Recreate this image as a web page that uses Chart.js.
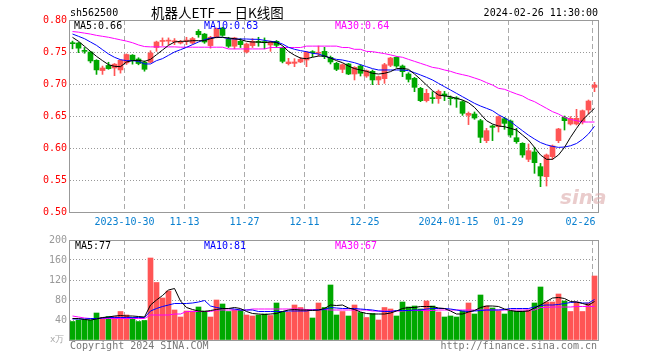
<!DOCTYPE html>
<html>
<head>
<meta charset="utf-8">
<script src="https://cdn.jsdelivr.net/npm/chart.js@4/dist/chart.umd.min.js"></script>
<style>
html,body{margin:0;padding:0;background:#fff;}
#wrap{position:relative;width:660px;height:360px;overflow:hidden;font-family:"DejaVu Sans Mono",monospace;font-size:10px;line-height:12px;}
#wrap canvas{position:absolute;left:0;}
.t{position:absolute;white-space:pre;}
</style>
</head>
<body>
<div id="wrap">
<canvas id="k" width="660" height="235" style="top:0"></canvas>
<canvas id="v" width="660" height="120" style="top:230px"></canvas>
<div class="t" style="left:70px;top:7px;color:#000">sh562500</div>
<div class="t" style="left:151px;top:3px;font-family:'Noto Sans CJK SC',sans-serif;font-size:13.5px;line-height:18px;color:#000">机器人ETF 一 日K线图</div>
<div class="t" style="right:62px;top:7px;color:#000">2024-02-26 11:30:00</div>
<div class="t" id="m5" style="left:74px;top:20px;color:#000"></div>
<div class="t" id="m10" style="left:204px;top:20px;color:#0000ff"></div>
<div class="t" id="m30" style="left:335px;top:20px;color:#ff00ff"></div>
<div class="t" id="v5" style="left:75px;top:240px;color:#000"></div>
<div class="t" id="v10" style="left:204px;top:240px;color:#0000ff"></div>
<div class="t" id="v30" style="left:335px;top:240px;color:#ff00ff"></div>
<div class="t" style="left:50px;top:333px;color:#aaa;font-size:9px">x万</div>
<div class="t" style="left:70px;top:340px;color:#777">Copyright 2024 SINA.COM</div>
<div class="t" style="right:63px;top:340px;color:#777">http://finance.sina.com.cn</div>
<div class="t" style="left:560px;top:186px;font-family:'DejaVu Sans',sans-serif;font-style:italic;font-weight:bold;font-size:20px;line-height:22px;color:rgba(220,170,170,0.6)">sina</div>
</div>
<script>
// ---- data ----
const tickIdx = [9, 19, 29, 39, 49, 63, 73, 87];
const tickLabels = ['2023-10-30', '11-13', '11-27', '12-11', '12-25', '2024-01-15', '01-29', '02-26    '];
const priceTicks = [0.50, 0.55, 0.60, 0.65, 0.70, 0.75, 0.80];
const volTicks = [0, 40, 80, 120, 160, 200];

const opens = [0.764,0.764,0.752,0.750,0.737,0.721,0.729,0.725,0.722,0.733,0.745,0.739,0.734,0.734,0.757,0.7665,0.767,0.766,0.764,0.767,0.764,0.7823,0.778,0.760,0.773,0.7875,0.770,0.759,0.7667,0.750,0.760,0.766,0.7655,0.761,0.7667,0.757,0.7318,0.7323,0.7344,0.7375,0.7495,0.748,0.751,0.7417,0.7323,0.7229,0.7313,0.7156,0.7281,0.7125,0.7198,0.7063,0.7083,0.7292,0.7417,0.7281,0.7156,0.7089,0.6932,0.674,0.6778,0.6771,0.6844,0.6778,0.6778,0.6724,0.651,0.6531,0.6427,0.6115,0.6344,0.6333,0.6458,0.6422,0.6161,0.6073,0.5823,0.5938,0.5708,0.5552,0.5865,0.6115,0.6479,0.6375,0.6375,0.6411,0.6594,0.6948];
const highs = [0.767,0.765,0.757,0.751,0.738,0.728,0.734,0.732,0.738,0.747,0.746,0.741,0.736,0.752,0.767,0.772,0.772,0.771,0.768,0.773,0.773,0.785,0.779,0.7745,0.7875,0.7885,0.773,0.773,0.771,0.764,0.771,0.773,0.772,0.767,0.768,0.758,0.7401,0.7396,0.7417,0.751,0.7521,0.7594,0.7573,0.7437,0.7339,0.7313,0.7323,0.7271,0.7302,0.7219,0.7219,0.7125,0.7323,0.7417,0.7427,0.7297,0.7177,0.7104,0.6948,0.6917,0.688,0.6906,0.6885,0.6813,0.6802,0.674,0.6563,0.6563,0.6448,0.6307,0.6359,0.650,0.6479,0.6438,0.6307,0.6083,0.6063,0.601,0.576,0.5906,0.6047,0.6307,0.650,0.649,0.6604,0.6594,0.675,0.7026];
const lows = [0.755,0.749,0.748,0.733,0.715,0.715,0.723,0.713,0.717,0.7305,0.731,0.730,0.720,0.733,0.751,0.760,0.7615,0.7615,0.7625,0.7615,0.7625,0.773,0.7635,0.756,0.772,0.7745,0.757,0.755,0.757,0.7484,0.757,0.759,0.755,0.751,0.757,0.733,0.7297,0.7271,0.7333,0.7271,0.7427,0.7438,0.7396,0.7313,0.7208,0.7177,0.7146,0.7063,0.7125,0.7104,0.699,0.699,0.701,0.7271,0.726,0.7115,0.7031,0.688,0.6724,0.6719,0.6698,0.6698,0.674,0.6672,0.6635,0.651,0.6365,0.6448,0.6083,0.6083,0.6115,0.625,0.6292,0.6167,0.6073,0.5854,0.5786,0.5604,0.5396,0.5406,0.5823,0.6083,0.6281,0.6359,0.6359,0.6375,0.6531,0.688];
const closes = [0.763,0.756,0.751,0.736,0.722,0.725,0.724,0.731,0.737,0.746,0.7365,0.732,0.723,0.7485,0.7656,0.768,0.768,0.767,0.765,0.768,0.771,0.777,0.7656,0.773,0.7865,0.776,0.759,0.772,0.7615,0.7625,0.7667,0.765,0.7648,0.7655,0.7604,0.7354,0.7344,0.7344,0.7385,0.750,0.749,0.749,0.7427,0.7344,0.7229,0.7302,0.7156,0.726,0.7167,0.7208,0.7063,0.7115,0.7302,0.7406,0.7281,0.7193,0.7073,0.6948,0.674,0.6854,0.6771,0.6885,0.6818,0.6771,0.6766,0.6542,0.6542,0.6469,0.6167,0.6271,0.6323,0.649,0.6385,0.6203,0.6099,0.5891,0.5958,0.5771,0.5563,0.5891,0.6031,0.6297,0.6427,0.6464,0.6464,0.6583,0.6734,0.6984];

const ma5 = [0.7729,0.7667,0.7589,0.7510,0.7432,0.7365,0.7302,0.7276,0.7271,0.7344,0.7365,0.7370,0.7354,0.7385,0.7458,0.7531,0.7604,0.7656,0.7667,0.7667,0.7677,0.7677,0.7677,0.7708,0.7729,0.7729,0.7719,0.7708,0.7693,0.7667,0.7656,0.7656,0.7646,0.7656,0.7650,0.7600,0.7510,0.7450,0.7405,0.7396,0.7417,0.7437,0.7437,0.7406,0.7365,0.7333,0.7281,0.7240,0.7219,0.7198,0.7167,0.7156,0.7167,0.7193,0.7240,0.7245,0.7229,0.7156,0.7073,0.6984,0.6896,0.6828,0.6813,0.6802,0.6776,0.6750,0.6708,0.6635,0.6531,0.6427,0.6375,0.6344,0.6333,0.6307,0.6281,0.6203,0.6125,0.6010,0.5891,0.5823,0.5823,0.5891,0.6010,0.6167,0.6307,0.6438,0.6531,0.6620];
const ma10 = [0.7781,0.7745,0.7708,0.7656,0.7604,0.7536,0.7469,0.7417,0.7380,0.7365,0.7365,0.7354,0.7313,0.7313,0.7365,0.7396,0.7448,0.7500,0.7536,0.7573,0.7615,0.7656,0.7693,0.7719,0.7729,0.7729,0.7708,0.7703,0.7703,0.7703,0.7698,0.7698,0.7682,0.7667,0.7656,0.7625,0.7573,0.7542,0.7521,0.7505,0.7479,0.7469,0.7437,0.7406,0.7385,0.7375,0.7354,0.7333,0.7302,0.7271,0.7240,0.7219,0.7219,0.7219,0.7219,0.7219,0.7208,0.7177,0.7141,0.7104,0.7063,0.7010,0.6958,0.6906,0.6854,0.6802,0.6750,0.6698,0.6656,0.6620,0.6583,0.6520,0.6470,0.6414,0.6340,0.6270,0.6200,0.6140,0.6085,0.6050,0.6025,0.6010,0.6015,0.6035,0.6070,0.6135,0.6220,0.6340];
const ma30 = [0.7820,0.7810,0.7795,0.7780,0.7760,0.7745,0.7730,0.7710,0.7690,0.7670,0.7645,0.7610,0.7585,0.7580,0.7580,0.7580,0.7580,0.7580,0.7575,0.7575,0.7575,0.7575,0.7575,0.7575,0.7575,0.7575,0.7548,0.7548,0.7548,0.7548,0.7548,0.7548,0.7548,0.7570,0.7570,0.7570,0.7570,0.7570,0.7570,0.7592,0.7592,0.7592,0.7592,0.7592,0.7592,0.7570,0.7570,0.7542,0.7542,0.7510,0.7505,0.7490,0.7475,0.7455,0.7432,0.7417,0.7385,0.7354,0.7323,0.7292,0.7260,0.7245,0.7219,0.7198,0.7167,0.7146,0.7125,0.7094,0.7063,0.7021,0.6984,0.6932,0.6917,0.6880,0.6844,0.6813,0.6760,0.6724,0.6672,0.6620,0.6568,0.6531,0.6479,0.6448,0.6427,0.6406,0.6406,0.6406];

const vols = [37,40,41,40,54,45,47,47,57,50,45,37,39,164,115,84,98,60,46,58,58,66,58,46,80,72,57,60,60,50,48,50,52,49,74,56,56,70,65,60,44,74,65,110,50,57,48,70,55,45,53,40,65,62,48,76,66,68,62,78,68,56,46,48,46,58,74,52,90,68,64,58,52,58,58,58,60,74,106,76,76,92,78,57,76,57,74,128];
const vma5 = [43,43,41,40,42,45,46,48,49,48,48,47,46,70,80,89,100,103,78,65,61,58,57,59,61,63,63,65,63,57,53,52,51,52,53,57,60,61,60,60,59,60,63,70,69,70,64,61,56,53,52,52,52,54,58,63,65,65,67,67,67,64,63,58,52,52,56,59,65,68,68,67,62,59,57,57,58,64,70,77,84,85,83,77,76,73,70,77];
const vma10 = [42,42,42,43,43,44,45,45,45,45,45,45,45,58,63,67,70,73,73,73,74,76,79,68,65,63,63,62,60,60,60,57,57,57,57,57,58,58,58,58,60,60,61,65,64,63,63,63,62,61,60,58,57,57,59,59,59,60,60,62,63,63,63,62,60,58,57,58,59,60,60,60,61,63,63,63,63,66,69,70,70,71,73,75,76,74,74,81];
const vma30 = [48,46,44,43,43,43,43,43,43,43,43,43,43,50,50,50,50,52,52,57,57,57,57,57,60,60,60,60,60,60,62,62,62,62,62,62,62,62,62,61,61,61,61,60,60,60,60,60,60,60,58,58,58,58,58,58,59,59,59,59,59,60,60,60,60,60,60,60,60,60,60,60,60,60,60,60,60,60,65,65,66,66,66,66,67,67,67,67];

// ---- styles ----
const RED = '#ff5555';
const GREEN = '#00a800';
const MONO = 'DejaVu Sans Mono';
const upDown = closes.map((c, i) => c >= opens[i] ? RED : GREEN);

const last = a => a[a.length - 1];
document.getElementById('m5').textContent = 'MA5:' + last(ma5).toFixed(2);
document.getElementById('m10').textContent = 'MA10:' + last(ma10).toFixed(2);
document.getElementById('m30').textContent = 'MA30:' + last(ma30).toFixed(2);
document.getElementById('v5').textContent = 'MA5:' + Math.round(last(vma5));
document.getElementById('v10').textContent = 'MA10:' + Math.round(last(vma10));
document.getElementById('v30').textContent = 'MA30:' + Math.round(last(vma30));

const frame = {
  id: 'frame',
  afterDraw(chart) {
    const {ctx, chartArea: a} = chart;
    ctx.save();
    ctx.strokeStyle = '#999';
    ctx.lineWidth = 1;
    ctx.strokeRect(a.left - 0.5, a.top + 0.5, a.right - a.left + 1, a.bottom - a.top);
    ctx.restore();
  }
};

const XMIN = -5 / 12, XMAX = 87 + 7 / 12;
function xAxis(showLabels, height) {
  return {
    type: 'linear', min: XMIN, max: XMAX, offset: false, bounds: 'data',
    afterBuildTicks: s => { s.ticks = tickIdx.map(i => ({value: i - 1 / 3})); },
    afterFit: s => { s.height = height; },
    ticks: {
      display: showLabels, autoSkip: false, maxRotation: 0, padding: 4,
      color: '#0a80d0', font: {family: MONO, size: 10},
      callback: (v, idx) => tickLabels[idx]
    },
    grid: {color: '#aaa', lineWidth: 1, drawTicks: false, offset: false},
    border: {display: false, dash: [5, 3]}
  };
}
function yAxis(min, max, vals, color, fmt) {
  return {
    type: 'linear', min, max,
    afterBuildTicks: s => { s.ticks = vals.map(v => ({value: v})); },
    afterFit: s => { s.width = 70; },
    ticks: {color, font: {family: MONO, size: 10}, padding: 3, callback: fmt},
    grid: {
      color: c => (c.tick && (c.tick.value <= min + 1e-9 || c.tick.value >= max - 1e-9)) ? 'rgba(0,0,0,0)' : '#999',
      lineWidth: 1, drawTicks: false
    },
    border: {display: false, dash: [1, 2]}
  };
}
const line = (arr, color) => ({
  type: 'line', data: arr.map((v, i) => ({x: i, y: v})),
  borderColor: color, borderWidth: 1, pointRadius: 0, tension: 0, order: 0, fill: false
});
const common = {
  responsive: false, animation: false, devicePixelRatio: 1, events: [],
  plugins: {legend: {display: false}, tooltip: {enabled: false}}
};

new Chart(document.getElementById('k'), {
  type: 'bar',
  data: {
    datasets: [
      line(ma5, '#000000'), line(ma10, '#0000ff'), line(ma30, '#ff00ff'),
      {type: 'bar', data: lows.map((l, i) => ({x: i, y: [l, highs[i]]})), backgroundColor: upDown,
       barThickness: 1, grouped: false, order: 2, borderWidth: 0},
      {type: 'bar', data: opens.map((o, i) => ({x: i, y: [o, closes[i]]})), backgroundColor: upDown,
       barThickness: 5, grouped: false, order: 1, borderWidth: 0, minBarLength: 1}
    ]
  },
  options: Object.assign({}, common, {
    layout: {padding: {left: 0, right: 62, top: 20, bottom: 0}},
    scales: {
      x: xAxis(true, 23),
      y: yAxis(0.5, 0.8, priceTicks, '#ff0000', v => v.toFixed(2))
    }
  }),
  plugins: [frame]
});

new Chart(document.getElementById('v'), {
  type: 'bar',
  data: {
    datasets: [
      line(vma5, '#000000'), line(vma10, '#0000ff'), line(vma30, '#ff00ff'),
      {type: 'bar', data: vols.map((v, i) => ({x: i, y: v})), backgroundColor: upDown,
       barThickness: 5, grouped: false, order: 1, borderWidth: 0}
    ]
  },
  options: Object.assign({}, common, {
    layout: {padding: {left: 0, right: 62, top: 10, bottom: 10}},
    scales: {
      x: xAxis(false, 0),
      y: yAxis(0, 200, volTicks, '#999', v => v === 0 ? '' : String(v))
    }
  }),
  plugins: [frame]
});
</script>
</body>
</html>
